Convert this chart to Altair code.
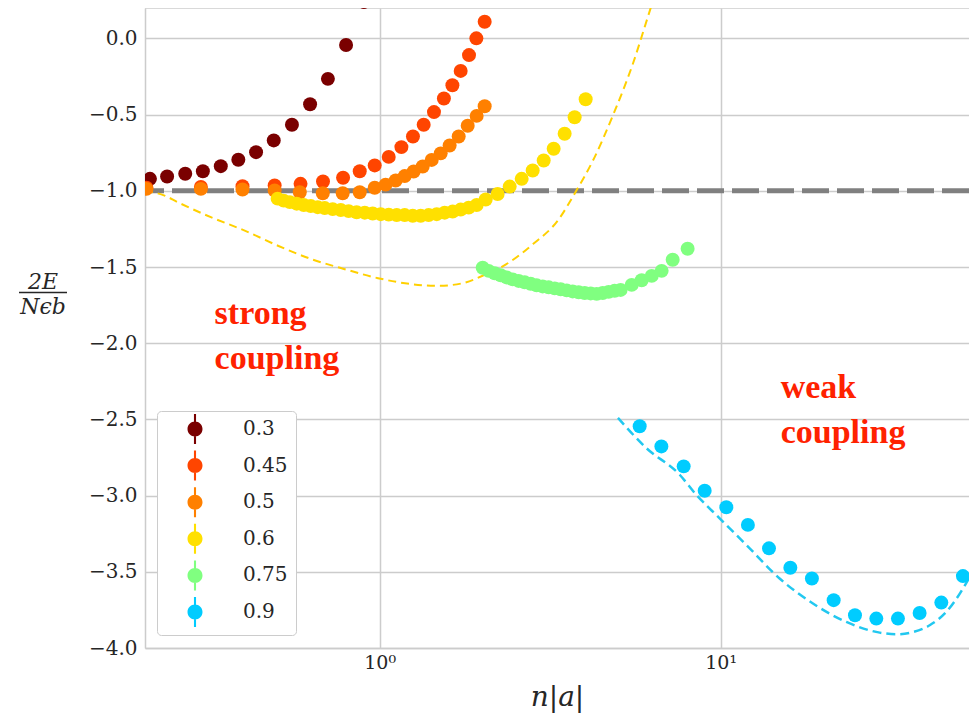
import altair as alt
import pandas as pd

series = ["0.3", "0.45", "0.5", "0.6", "0.75", "0.9"]
colors = ["#7a0000", "#ff4500", "#ff8000", "#ffe000", "#80ff80", "#00ccff"]

x_03 = [0.212, 0.238, 0.269, 0.303, 0.342, 0.385, 0.434, 0.489, 0.553, 0.625, 0.705, 0.797, 0.899]
y_03 = [-0.921, -0.906, -0.888, -0.871, -0.838, -0.796, -0.746, -0.669, -0.566, -0.432, -0.265, -0.043, 0.24]

x_045 = [0.207, 0.299, 0.396, 0.492, 0.586, 0.682, 0.781, 0.874, 0.967, 1.063, 1.158, 1.252, 1.346,
         1.443, 1.543, 1.634, 1.728, 1.828, 1.921, 2.032]
y_045 = [-0.98, -0.975, -0.97, -0.965, -0.954, -0.939, -0.914, -0.871, -0.833, -0.777, -0.713, -0.643,
         -0.566, -0.483, -0.394, -0.307, -0.213, -0.109, 0.001, 0.110]

x_05 = [0.207, 0.299, 0.396, 0.492, 0.583, 0.681, 0.779, 0.874, 0.967, 1.041, 1.114, 1.184, 1.258,
        1.337, 1.421, 1.510, 1.604, 1.705, 1.812, 1.925, 2.032]
y_05 = [-0.987, -0.987, -0.991, -0.998, -1.009, -1.016, -1.016, -1.009, -0.980, -0.959, -0.932, -0.903,
        -0.873, -0.840, -0.797, -0.754, -0.702, -0.643, -0.573, -0.508, -0.445]

x_06 = [0.502, 0.523, 0.545, 0.571, 0.599, 0.628, 0.658, 0.690, 0.728, 0.769, 0.811, 0.856, 0.904,
        0.954, 1.007, 1.063, 1.122, 1.184, 1.250, 1.319, 1.392, 1.470, 1.551, 1.637, 1.728, 1.824,
        1.925, 2.046, 2.218, 2.406, 2.609, 2.810, 3.027, 3.238, 3.487, 3.731, 4.019]
y_06 = [-1.051, -1.064, -1.074, -1.084, -1.093, -1.100, -1.107, -1.113, -1.120, -1.126, -1.133, -1.140,
        -1.143, -1.149, -1.153, -1.156, -1.159, -1.159, -1.163, -1.163, -1.159, -1.153, -1.143, -1.136,
        -1.123, -1.110, -1.093, -1.057, -1.021, -0.972, -0.921, -0.866, -0.801, -0.724, -0.625, -0.517,
        -0.399]

x_075 = [2.005, 2.087, 2.174, 2.264, 2.357, 2.455, 2.556, 2.662, 2.772, 2.886, 3.006, 3.130, 3.260,
         3.394, 3.535, 3.681, 3.833, 3.992, 4.157, 4.329, 4.508, 4.694, 4.887, 5.089, 5.483, 5.866,
         6.278, 6.714, 7.233, 8.001]
y_075 = [-1.505, -1.525, -1.541, -1.554, -1.568, -1.581, -1.591, -1.600, -1.610, -1.620, -1.627, -1.633,
         -1.640, -1.646, -1.653, -1.660, -1.666, -1.670, -1.673, -1.676, -1.670, -1.663, -1.656, -1.650,
         -1.617, -1.587, -1.558, -1.525, -1.452, -1.380]

x_09 = [5.788, 6.701, 7.791, 8.978, 10.39, 12.02, 13.86, 16.01, 18.52, 21.45, 24.77, 28.61, 33.11,
        38.33, 44.38, 51.35, 59.46]
y_09 = [-2.545, -2.677, -2.808, -2.968, -3.076, -3.192, -3.346, -3.473, -3.544, -3.686, -3.785, -3.807,
        -3.807, -3.770, -3.702, -3.528, -3.269]

# theory curves (dashed)
tx_06 = [0.205, 0.234, 0.256, 0.321, 0.402, 0.503, 0.631, 0.790, 0.989, 1.239, 1.483, 1.736, 2.055,
         2.353, 2.817, 3.327, 3.775, 4.222, 4.833, 5.532, 6.163, 6.40]
ty_06 = [-1.0, -1.031, -1.075, -1.174, -1.261, -1.360, -1.448, -1.514, -1.573, -1.612, -1.623, -1.608,
         -1.546, -1.481, -1.349, -1.196, -0.998, -0.801, -0.504, -0.164, 0.165, 0.28]
tx_09 = [4.998, 6.056, 7.583, 8.486, 9.933, 11.90, 14.89, 18.65, 23.37, 29.27, 32.75, 36.64, 41.02,
         45.90, 51.35, 56.23, 61.5]
ty_09 = [-2.490, -2.688, -2.863, -2.995, -3.149, -3.324, -3.544, -3.708, -3.829, -3.899, -3.910, -3.895,
         -3.851, -3.763, -3.610, -3.445, -3.20]

ref_level = [-1.0]
y_ticks = [0.0, -0.5, -1.0, -1.5, -2.0, -2.5, -3.0, -3.5, -4.0]
x_ticks = [1, 10]

ann_text = ["strong", "coupling", "weak", "coupling"]
ann_x = [0.328, 0.328, 15.0, 15.0]
ann_y = [-1.872, -2.172, -2.361, -2.657]

rows = []
for s, xs, ys in zip(series, [x_03, x_045, x_05, x_06, x_075, x_09], [y_03, y_045, y_05, y_06, y_075, y_09]):
    rows += [{"series": s, "x": a, "E": b} for a, b in zip(xs, ys)]
pts = pd.DataFrame(rows)

th06 = pd.DataFrame({"x": tx_06, "E": ty_06})
th09 = pd.DataFrame({"x": tx_09, "E": ty_09})
ann = pd.DataFrame({"x": ann_x, "E": ann_y, "t": ann_text})

LBL = "DejaVu Serif"
TXT = "#262626"
FRAME = "#cccccc"

xscale = alt.Scale(type="log", domain=[0.205, 53.5], nice=False)
yscale = alt.Scale(domain=[-4.0, 0.2], nice=False, zero=False)

xaxis = alt.Axis(values=x_ticks, labelExpr="datum.value == 1 ? '10⁰' : '10¹'", title="n|a|",
                 ticks=False, domain=True, domainColor=FRAME, domainWidth=1.5,
                 grid=True, gridColor=FRAME, gridWidth=1.5,
                 labelFont=LBL, labelFontSize=19, labelColor=TXT, labelPadding=5,
                 titleFont=LBL, titleFontSize=28, titleFontStyle="italic", titleFontWeight="normal",
                 titleColor=TXT, titleBaseline="alphabetic", titleY=57)
yaxis = alt.Axis(values=y_ticks, labelExpr="replace(format(datum.value, '.1f'), '-', '−')",
                 title=["2E", "Nϵb"], titleAngle=0, titleX=-102.5, titleY=280, titleAlign="center",
                 titleBaseline="alphabetic", titleLineHeight=25, titleFont=LBL, titleFontSize=22,
                 titleFontStyle="italic", titleFontWeight="normal", titleColor=TXT,
                 ticks=False, domain=True, domainColor=FRAME, domainWidth=1.5,
                 grid=True, gridColor=FRAME, gridWidth=1.5,
                 labelFont=LBL, labelFontSize=20, labelColor=TXT, labelPadding=8)

X = alt.X("x:Q", scale=xscale, axis=xaxis)
Y = alt.Y("E:Q", scale=yscale, axis=yaxis)

# legend symbol: filled dot with vertical error bar
sym = "M-1,0A1,1,0,1,1,1,0A1,1,0,1,1,-1,0Z M-0.14,-2L0.14,-2L0.14,2L-0.14,2Z"

topframe = alt.Chart(pd.DataFrame({"a": [0]})).mark_rule(color=FRAME, strokeWidth=1.5).encode(
    y=alt.value(0))

hline = alt.Chart(pd.DataFrame({"E": ref_level})).mark_rule(
    color="#808080", strokeWidth=5, strokeDash=[27, 8]).encode(y=alt.Y("E:Q", scale=yscale))

line06 = alt.Chart(th06).mark_line(clip=True, color="#ffd000", strokeWidth=2, strokeDash=[8, 5],
                                   interpolate="monotone").encode(x=X, y=Y)
line09 = alt.Chart(th09).mark_line(clip=True, color="#22c8f0", strokeWidth=2.5, strokeDash=[9, 5],
                                   interpolate="monotone").encode(x=X, y=Y)

points = alt.Chart(pts).mark_circle(size=195, opacity=1, clip=True).encode(
    x=X, y=Y,
    color=alt.Color("series:N", scale=alt.Scale(domain=series, range=colors),
                    legend=alt.Legend(title=None, orient="none", legendX=12, legendY=403,
                                      symbolType=sym, symbolSize=225, symbolOffset=20,
                                      labelOffset=38, labelFont=LBL, labelFontSize=20,
                                      labelColor=TXT, rowPadding=6.6, padding=8,
                                      strokeColor=FRAME, fillColor="white",
                                      cornerRadius=4, symbolOpacity=1))
)

texts = alt.Chart(ann).mark_text(align="left", baseline="alphabetic", font="Liberation Serif",
                                 fontWeight="bold", fontSize=34, color="#ff2200").encode(
    x=alt.X("x:Q", scale=xscale), y=alt.Y("E:Q", scale=yscale), text="t:N")

bar = alt.Chart(pd.DataFrame({"a": [0]})).mark_rule(color=TXT, strokeWidth=1.5).encode(
    x=alt.value(-126), x2=alt.value(-78), y=alt.value(284.5))

chart = alt.layer(topframe, hline, line06, line09, points, texts, bar).properties(
    width=824, height=640,
    autosize=alt.AutoSizeParams(type="none"),
    padding={"left": 137, "top": 0, "right": 0, "bottom": 66},
).configure_view(stroke=None)

chart.save("out.html", embed_options={"renderer": "svg", "actions": False})
